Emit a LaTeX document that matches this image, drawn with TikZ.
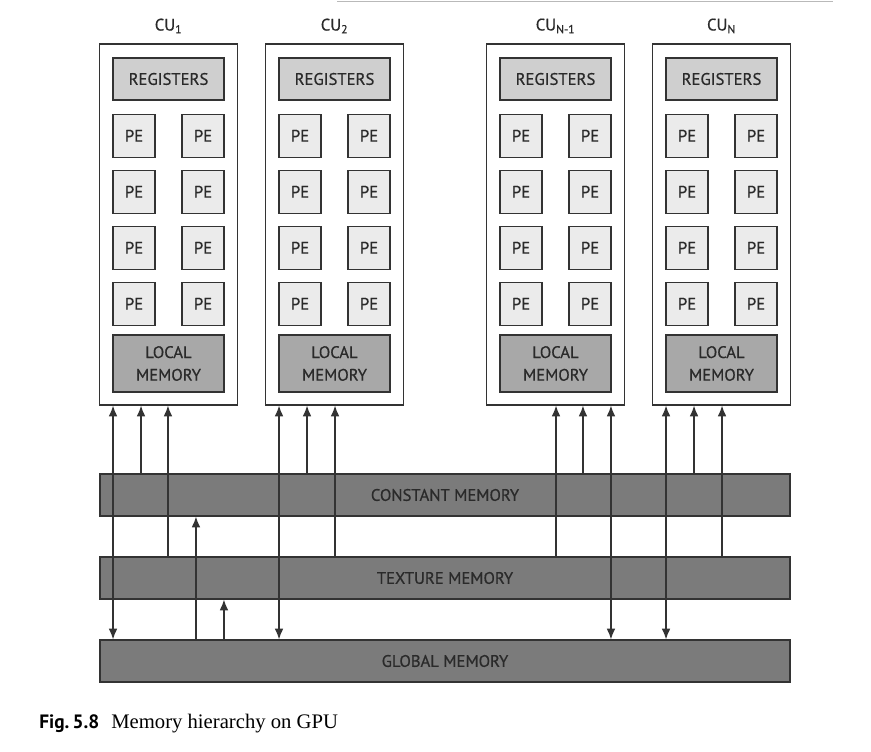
\documentclass[tikz,border=0pt]{standalone}
\usepackage{fontspec}
\setmainfont{Liberation Serif}
\newfontfamily\diagfont[FakeBold=0.6]{PT Sans}
\newfontfamily\capfont{PT Sans}
\usetikzlibrary{arrows.meta,positioning}
\definecolor{edgegray}{HTML}{333333}
\definecolor{txtgray}{HTML}{2A2A2A}
\definecolor{regfill}{HTML}{CFCFCF}
\definecolor{pefill}{HTML}{EBEBEB}
\definecolor{lmfill}{HTML}{A8A8A8}
\definecolor{barfill}{HTML}{7B7B7B}
\begin{document}
\begin{tikzpicture}[x=0.75pt,y=-0.75pt,>={Latex[length=8pt,width=6.5pt]},
      nodes={font=\diagfont\fontsize{12.5}{17}\selectfont, text=txtgray},
      cubox/.style={rectangle,draw=edgegray,line width=0.9pt,minimum width=103.5pt,minimum height=270.75pt},
      regbox/.style={rectangle,draw=edgegray,fill=regfill,line width=0.9pt,minimum width=83.25pt,minimum height=31.5pt},
      pebox/.style={rectangle,draw=edgegray,fill=pefill,line width=0.9pt,minimum width=31.5pt,minimum height=32.25pt},
      lmbox/.style={rectangle,draw=edgegray,fill=lmfill,line width=0.9pt,minimum width=83.25pt,minimum height=42.75pt,align=center},
      membar/.style={rectangle,draw=edgegray,fill=barfill,line width=0.9pt,minimum width=517.5pt,minimum height=31.5pt},
      link/.style={draw=edgegray,line width=1pt}]
    \useasboundingbox (0,0) rectangle (871,752);
    \draw[gray!55,line width=0.6pt] (337,1) -- (833,1);

    \node[cubox](cu1) at (168.5,224.5){};
    \node[above=4pt of cu1.north](l1){CU\textsubscript{1}};
    \node[regbox,below=10.5pt of cu1.north](reg1){REGISTERS};
    \node[pebox,below=9.75pt of reg1.south west,anchor=north west](p111){PE};
    \node[pebox,right of=p111,node distance=51.75pt](p112){PE};
    \node[pebox,below of=p111,node distance=42pt](p121){PE};
    \node[pebox,right of=p121,node distance=51.75pt](p122){PE};
    \node[pebox,below of=p121,node distance=42pt](p131){PE};
    \node[pebox,right of=p131,node distance=51.75pt](p132){PE};
    \node[pebox,below of=p131,node distance=42pt](p141){PE};
    \node[pebox,right of=p141,node distance=51.75pt](p142){PE};
    \node[lmbox,above=9.75pt of cu1.south](lm1){LOCAL\\MEMORY};

    \node[cubox,right of=cu1,node distance=124.5pt](cu2){};
    \node[above=4pt of cu2.north](l2){CU\textsubscript{2}};
    \node[regbox,below=10.5pt of cu2.north](reg2){REGISTERS};
    \node[pebox,below=9.75pt of reg2.south west,anchor=north west](p211){PE};
    \node[pebox,right of=p211,node distance=51.75pt](p212){PE};
    \node[pebox,below of=p211,node distance=42pt](p221){PE};
    \node[pebox,right of=p221,node distance=51.75pt](p222){PE};
    \node[pebox,below of=p221,node distance=42pt](p231){PE};
    \node[pebox,right of=p231,node distance=51.75pt](p232){PE};
    \node[pebox,below of=p231,node distance=42pt](p241){PE};
    \node[pebox,right of=p241,node distance=51.75pt](p242){PE};
    \node[lmbox,above=9.75pt of cu2.south](lm2){LOCAL\\MEMORY};

    \node[cubox,right of=cu2,node distance=165.75pt](cu3){};
    \node[above=4pt of cu3.north](l3){CU\textsubscript{N-1}};
    \node[regbox,below=10.5pt of cu3.north](reg3){REGISTERS};
    \node[pebox,below=9.75pt of reg3.south west,anchor=north west](p311){PE};
    \node[pebox,right of=p311,node distance=51.75pt](p312){PE};
    \node[pebox,below of=p311,node distance=42pt](p321){PE};
    \node[pebox,right of=p321,node distance=51.75pt](p322){PE};
    \node[pebox,below of=p321,node distance=42pt](p331){PE};
    \node[pebox,right of=p331,node distance=51.75pt](p332){PE};
    \node[pebox,below of=p331,node distance=42pt](p341){PE};
    \node[pebox,right of=p341,node distance=51.75pt](p342){PE};
    \node[lmbox,above=9.75pt of cu3.south](lm3){LOCAL\\MEMORY};

    \node[cubox,right of=cu3,node distance=124.5pt](cu4){};
    \node[above=4pt of cu4.north](l4){CU\textsubscript{N}};
    \node[regbox,below=10.5pt of cu4.north](reg4){REGISTERS};
    \node[pebox,below=9.75pt of reg4.south west,anchor=north west](p411){PE};
    \node[pebox,right of=p411,node distance=51.75pt](p412){PE};
    \node[pebox,below of=p411,node distance=42pt](p421){PE};
    \node[pebox,right of=p421,node distance=51.75pt](p422){PE};
    \node[pebox,below of=p421,node distance=42pt](p431){PE};
    \node[pebox,right of=p431,node distance=51.75pt](p432){PE};
    \node[pebox,below of=p431,node distance=42pt](p441){PE};
    \node[pebox,right of=p441,node distance=51.75pt](p442){PE};
    \node[lmbox,above=9.75pt of cu4.south](lm4){LOCAL\\MEMORY};

    \node[membar](cmem) at (445,495){CONSTANT MEMORY};
    \node[membar,below of=cmem,node distance=62.25pt](tmem){TEXTURE MEMORY};
    \node[membar,below of=tmem,node distance=62.25pt](gmem){GLOBAL MEMORY};

    \draw[link,<->] ([xshift=-41.6pt]cu1.south) -- ([xshift=-41.6pt]cu1.south |- gmem.north);
    \draw[link,->] ([xshift=-20.6pt]cu1.south |- cmem.north) -- ([xshift=-20.6pt]cu1.south);
    \draw[link,->] ([xshift=-0.4pt]cu1.south |- tmem.north) -- ([xshift=-0.4pt]cu1.south);
    \draw[link,->] ([xshift=20.6pt]cu1.south |- gmem.north) -- ([xshift=20.6pt]cu1.south |- cmem.south);
    \draw[link,->] ([xshift=41.6pt]cu1.south |- gmem.north) -- ([xshift=41.6pt]cu1.south |- tmem.south);

    \draw[link,<->] ([xshift=-41.6pt]cu2.south) -- ([xshift=-41.6pt]cu2.south |- gmem.north);
    \draw[link,->] ([xshift=-20.6pt]cu2.south |- cmem.north) -- ([xshift=-20.6pt]cu2.south);
    \draw[link,->] ([xshift=0.4pt]cu2.south |- tmem.north) -- ([xshift=0.4pt]cu2.south);

    \draw[link,->] ([xshift=0.4pt]cu3.south |- tmem.north) -- ([xshift=0.4pt]cu3.south);
    \draw[link,->] ([xshift=20.6pt]cu3.south |- cmem.north) -- ([xshift=20.6pt]cu3.south);
    \draw[link,<->] ([xshift=41.6pt]cu3.south) -- ([xshift=41.6pt]cu3.south |- gmem.north);

    \draw[link,<->] ([xshift=-41.6pt]cu4.south) -- ([xshift=-41.6pt]cu4.south |- gmem.north);
    \draw[link,->] ([xshift=-20.6pt]cu4.south |- cmem.north) -- ([xshift=-20.6pt]cu4.south);
    \draw[link,->] ([xshift=0.4pt]cu4.south |- tmem.north) -- ([xshift=0.4pt]cu4.south);

    \node[anchor=base west,inner sep=0pt,text=black,font=\fontsize{15.5}{18}\selectfont](cap) at (39,728)
        {{\capfont\bfseries\fontsize{14.5}{18}\selectfont Fig.\,5.8}\hspace{9pt}Memory hierarchy on GPU};
\end{tikzpicture}
\end{document}
